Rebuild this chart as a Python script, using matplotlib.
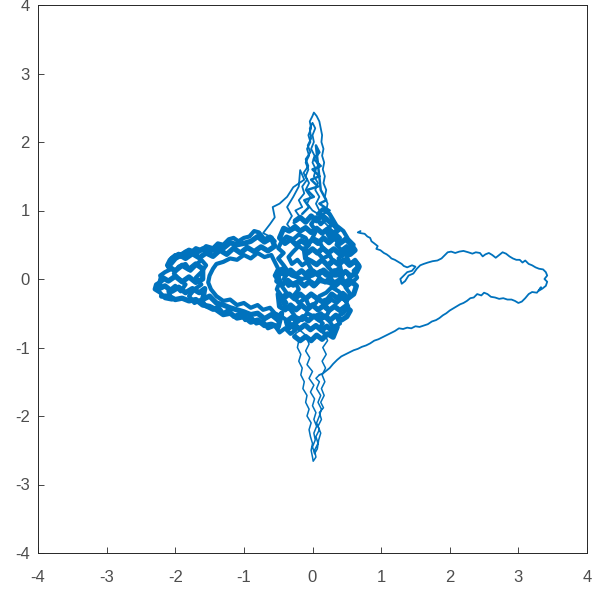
import numpy as np
import matplotlib
matplotlib.use("Agg")
import matplotlib.pyplot as plt

# Hand-read trajectory pieces (data units)
right_lobe = [(0.70,0.70),(0.66,0.68),(0.70,0.67),(0.76,0.66),(0.80,0.62),(0.84,0.60),(0.86,0.55),(0.90,0.52),(0.95,0.48),(0.93,0.44),
 (0.99,0.42),(1.04,0.38),(1.08,0.36),(1.12,0.33),(1.15,0.30),(1.20,0.28),(1.25,0.25),(1.30,0.22),(1.33,0.19),(1.38,0.17),
 (1.45,0.20),(1.50,0.18),(1.45,0.12),(1.38,0.10),(1.33,0.05),(1.28,0.00),(1.30,-0.07),(1.35,-0.03),(1.40,0.05),(1.47,0.08),
 (1.52,0.15),(1.57,0.20),(1.62,0.22),(1.68,0.24),(1.75,0.26),(1.82,0.27),(1.88,0.30),(1.93,0.35),(1.97,0.39),(2.02,0.40),
 (2.08,0.38),(2.14,0.40),(2.20,0.41),(2.27,0.39),(2.33,0.37),(2.38,0.39),(2.44,0.38),(2.48,0.33),(2.52,0.36),(2.57,0.38),
 (2.62,0.35),(2.67,0.31),(2.72,0.35),(2.77,0.39),(2.82,0.37),(2.87,0.33),(2.92,0.30),(2.97,0.28),(3.02,0.28),(3.06,0.24),
 (3.10,0.27),(3.15,0.22),(3.20,0.20),(3.25,0.17),(3.30,0.15),(3.36,0.14),(3.40,0.10),(3.42,0.05),(3.38,0.00),(3.42,-0.04),
 (3.40,-0.10),(3.35,-0.14),(3.30,-0.17),(3.33,-0.12),(3.27,-0.20),(3.20,-0.19),(3.15,-0.22),(3.10,-0.28),(3.05,-0.33),(3.00,-0.35),
 (2.95,-0.32),(2.90,-0.30),(2.84,-0.30),(2.78,-0.28),(2.72,-0.29),(2.66,-0.27),(2.60,-0.26),(2.55,-0.22),(2.50,-0.20),(2.46,-0.24),
 (2.40,-0.22),(2.35,-0.27),(2.30,-0.28),(2.25,-0.32),(2.20,-0.35),(2.15,-0.37),(2.10,-0.40),(2.05,-0.43),(2.00,-0.46),(1.95,-0.50),
 (1.90,-0.53),(1.85,-0.57),(1.80,-0.60),(1.74,-0.62),(1.68,-0.66),(1.62,-0.68),(1.56,-0.70),(1.50,-0.69),(1.44,-0.72),(1.38,-0.71),
 (1.32,-0.73),(1.26,-0.72),(1.20,-0.76),(1.14,-0.79),(1.08,-0.82),(1.02,-0.85),(0.96,-0.88),(0.90,-0.90),(0.84,-0.94),(0.78,-0.97),
 (0.72,-0.99),(0.66,-1.02),(0.60,-1.04),(0.54,-1.07),(0.48,-1.10),(0.42,-1.13),(0.36,-1.18),(0.30,-1.24),(0.25,-1.30),(0.20,-1.34),
 (0.15,-1.38),(0.10,-1.40)]

bottom_spike = [(0.10,-1.40),(0.05,-1.45),(0.10,-1.50),(0.06,-1.60),(0.12,-1.70),(0.08,-1.80),(0.13,-1.90),(0.10,-2.00),(0.06,-2.10),(0.10,-2.20),
 (0.05,-2.30),(0.08,-2.40),(0.03,-2.50),(0.05,-2.60),(0.01,-2.66),(0.00,-2.60),(-0.02,-2.50),(0.00,-2.40),(-0.03,-2.30),(-0.05,-2.20),
 (-0.02,-2.10),(-0.08,-2.00),(-0.05,-1.90),(-0.10,-1.80),(-0.08,-1.70),(-0.14,-1.60),(-0.12,-1.50),(-0.17,-1.40),(-0.15,-1.30),(-0.20,-1.20),
 (-0.17,-1.10),(-0.22,-1.00),(-0.20,-0.90),(-0.25,-0.80),(-0.18,-0.75),(-0.10,-0.82),(-0.05,-0.95),(-0.10,-1.05),(-0.04,-1.15),(-0.08,-1.25),
 (0.00,-1.35),(-0.05,-1.45),(0.02,-1.55),(-0.03,-1.65),(0.03,-1.75),(0.00,-1.85),(0.05,-1.95),(0.02,-2.05),(0.06,-2.15),(0.02,-2.25),
 (0.04,-2.35),(0.00,-2.45),(0.03,-2.55),(0.07,-2.48),(0.09,-2.35),(0.12,-2.25),(0.08,-2.15),(0.13,-2.05),(0.10,-1.95),(0.16,-1.88),
 (0.12,-1.80),(0.17,-1.70),(0.13,-1.60),(0.18,-1.50),(0.14,-1.40),(0.19,-1.30),(0.14,-1.20),(0.20,-1.10),(0.15,-1.00),(0.22,-0.90),
 (0.18,-0.80)]

center_blob = [(0.18,-0.80),(0.10,-0.72),(0.15,-0.65),(0.08,-0.58),(0.20,-0.55),(0.25,-0.45),(0.18,-0.38),(0.28,-0.30),(0.35,-0.35),(0.42,-0.28),
 (0.50,-0.32),(0.55,-0.22),(0.48,-0.12),(0.58,-0.05),(0.65,0.02),(0.60,0.12),(0.68,0.20),(0.62,0.28),(0.55,0.22),(0.50,0.32),
 (0.58,0.40),(0.50,0.48),(0.42,0.42),(0.35,0.50),(0.40,0.60),(0.32,0.68),(0.25,0.60),(0.20,0.70),(0.28,0.80),(0.20,0.88),
 (0.12,0.80),(0.05,0.90),(-0.02,0.80),(0.05,0.70),(0.00,0.60),(0.10,0.55),(0.15,0.45),(0.08,0.38),(0.15,0.30),(0.25,0.35),
 (0.30,0.25),(0.22,0.18),(0.30,0.10),(0.38,0.15),(0.45,0.08),(0.40,0.00),(0.32,-0.05),(0.25,0.02),(0.18,-0.05),(0.10,0.02),
 (0.05,-0.08),(-0.05,-0.02),(-0.10,0.08),(-0.02,0.15),(-0.08,0.25),(-0.15,0.20),(-0.22,0.28),(-0.30,0.22),(-0.35,0.32),(-0.28,0.40),
 (-0.20,0.48),(-0.12,0.42),(-0.05,0.50),(-0.10,0.60),(-0.20,0.65),(-0.28,0.58),(-0.38,0.62),(-0.45,0.55),(-0.50,0.45),(-0.42,0.38),
 (-0.50,0.30),(-0.42,0.20),(-0.35,0.10),(-0.42,0.00),(-0.35,-0.10),(-0.25,-0.05),(-0.20,-0.15),(-0.28,-0.25),(-0.20,-0.35),(-0.10,-0.28),
 (-0.05,-0.40),(0.05,-0.35),(0.10,-0.25),(0.20,-0.20),(0.28,-0.12),(0.38,-0.18),(0.45,-0.25),(0.52,-0.40),(0.45,-0.50),(0.35,-0.55),
 (0.40,-0.65),(0.30,-0.70),(0.25,-0.62),(0.12,-0.50),(0.02,-0.55),(-0.08,-0.50),(-0.15,-0.60),(-0.25,-0.55),(-0.32,-0.45),(-0.40,-0.40),
 (-0.45,-0.30),(-0.38,-0.20),(-0.45,-0.10),(-0.50,0.05),(-0.45,0.15),(-0.30,0.05),(-0.15,0.00),(0.00,0.05),(0.12,0.12),(0.20,0.05),
 (0.35,0.05),(0.50,0.10),(0.55,0.00),(0.45,-0.05),(0.38,0.30),(0.45,0.35),(0.60,0.50),(0.52,0.58),(0.45,0.70),(0.35,0.78),
 (0.25,0.95),(0.15,1.02),(0.08,0.95)]

center_fill = [(-0.25,0.85),(-0.18,0.90),(-0.10,0.83),(-0.02,0.92),(0.06,0.85),(0.14,0.93),(0.22,0.86),(0.30,0.80),
 (0.38,0.72),(0.30,0.66),(0.22,0.73),(0.14,0.67),(0.06,0.74),(-0.02,0.68),(-0.10,0.75),(-0.18,0.70),(-0.26,0.76),(-0.34,0.70),(-0.42,0.74),
 (-0.48,0.60),(-0.40,0.52),(-0.32,0.58),(-0.24,0.50),(-0.16,0.56),(-0.08,0.50),(0.00,0.58),(0.08,0.52),(0.16,0.60),(0.24,0.53),
 (0.32,0.60),(0.40,0.52),(0.48,0.58),(0.55,0.52),
 (0.62,0.42),(0.55,0.36),(0.47,0.43),(0.39,0.37),(0.31,0.44),(0.23,0.38),(0.15,0.45),(0.07,0.38),(0.00,0.44),(-0.07,0.38),(-0.12,0.44),
 (-0.10,0.30),(-0.02,0.26),(0.06,0.21),(0.14,0.28),(0.22,0.20),(0.30,0.27),(0.38,0.21),(0.46,0.28),(0.54,0.20),(0.62,0.26),(0.68,0.18),
 (0.64,0.10),(0.56,0.04),(0.48,0.11),(0.40,0.05),(0.32,0.12),(0.24,0.06),(0.16,0.13),(0.08,0.06),(0.00,0.12),(-0.08,0.05),
 (-0.16,0.12),(-0.24,0.06),(-0.32,0.13),(-0.40,0.06),(-0.48,0.10),
 (-0.52,-0.03),(-0.44,-0.08),(-0.36,-0.02),(-0.28,-0.09),(-0.20,-0.03),(-0.12,-0.10),(-0.05,-0.04),(0.02,-0.10),
 (0.10,-0.02),(0.25,-0.05),(0.33,-0.10),(0.41,-0.03),(0.49,-0.10),(0.57,-0.04),(0.64,-0.10),
 (0.60,-0.22),(0.52,-0.28),(0.44,-0.21),(0.36,-0.28),(0.28,-0.22),(0.22,-0.30),(0.14,-0.33),(0.06,-0.28),(-0.02,-0.22),(-0.10,-0.29),
 (-0.18,-0.22),(-0.26,-0.29),(-0.34,-0.22),(-0.42,-0.28),(-0.50,-0.22),
 (-0.48,-0.40),(-0.40,-0.45),(-0.32,-0.38),(-0.24,-0.45),(-0.16,-0.38),(-0.08,-0.45),(0.00,-0.38),(0.08,-0.45),(0.16,-0.39),(0.24,-0.46),
 (0.32,-0.40),(0.40,-0.46),(0.48,-0.40),(0.55,-0.46),
 (0.50,-0.55),(0.42,-0.60),(0.34,-0.53),(0.26,-0.60),(0.18,-0.54),(0.10,-0.60),(0.02,-0.54),(-0.06,-0.61),(-0.14,-0.55),(-0.22,-0.62),
 (-0.30,-0.56),(-0.38,-0.62),
 (-0.35,-0.72),(-0.27,-0.66),(-0.19,-0.73),(-0.11,-0.67),(-0.03,-0.74),(0.05,-0.68),(0.13,-0.75),(0.21,-0.69),(0.29,-0.76),(0.36,-0.70),
 (0.30,-0.85),(0.22,-0.80),(0.14,-0.88),(0.06,-0.82),(-0.02,-0.90),(-0.10,-0.84),(-0.18,-0.90),(-0.26,-0.84)]

spike_base = [(-0.15,0.95),(-0.05,1.05),(-0.12,1.15),(0.02,1.20),(-0.08,1.30),(0.08,1.35),(-0.02,1.45),(0.10,1.50),(0.00,1.60),
 (0.12,1.65),(0.02,1.75),(0.10,1.85),(0.05,1.95),(0.12,1.30),(0.20,1.15),(0.10,1.10),(0.25,1.00),(0.15,0.95)]

top_spike = [(0.08,0.95),(0.00,1.00),(-0.08,1.10),(-0.03,1.20),(-0.10,1.30),(-0.05,1.40),(-0.10,1.50),(-0.06,1.60),(-0.10,1.70),(-0.05,1.80),
 (-0.08,1.90),(-0.03,2.00),(-0.06,2.10),(-0.02,2.20),(-0.04,2.30),(0.00,2.38),(0.02,2.43),(0.06,2.38),(0.10,2.30),(0.12,2.20),
 (0.14,2.10),(0.13,2.00),(0.16,1.90),(0.14,1.80),(0.17,1.70),(0.15,1.60),(0.18,1.50),(0.16,1.40),(0.20,1.30),(0.18,1.20),
 (0.22,1.10),(0.20,1.00),(0.26,0.90),(0.36,0.67),(0.28,0.72),(0.15,0.85),(0.10,1.00),(0.05,1.10),(0.10,1.20),(0.04,1.30),
 (0.08,1.40),(0.02,1.50),(0.05,1.60),(0.00,1.70),(0.03,1.80),(-0.02,1.90),(0.02,2.00),(0.00,2.10),(0.04,2.20),(0.00,2.28),
 (-0.04,2.20),(-0.02,2.05),(-0.07,1.95),(-0.03,1.85),(-0.10,1.75),(-0.06,1.65),(-0.13,1.55),(-0.08,1.45),(-0.15,1.35),(-0.12,1.25),
 (-0.20,1.15),(-0.15,1.05),(-0.25,1.00),(-0.18,0.90),(-0.28,0.82),(-0.20,0.75),(-0.30,0.70),(-0.37,0.80),(-0.30,0.92),(-0.37,1.05),
 (-0.28,1.20),(-0.20,1.35),(-0.18,1.59),(-0.12,1.45),(-0.28,1.34),(-0.37,1.20),(-0.48,1.10),(-0.58,1.05),(-0.55,0.90),(-0.62,0.80),
 (-0.72,0.67),(-0.62,0.62),(-0.55,0.55)]

left_lobe = [(-0.55,0.55),(-0.62,0.62),(-0.70,0.58),(-0.78,0.68),(-0.85,0.70),(-0.92,0.62),(-1.00,0.60),(-1.08,0.55),(-1.15,0.60),(-1.22,0.58),
 (-1.30,0.50),(-1.38,0.52),(-1.45,0.45),(-1.55,0.48),(-1.62,0.42),(-1.70,0.45),(-1.78,0.38),(-1.85,0.40),(-1.92,0.33),(-2.00,0.35),
 (-2.08,0.28),(-2.12,0.20),(-2.05,0.15),(-2.15,0.10),(-2.22,0.05),(-2.18,-0.02),(-2.28,-0.08),(-2.30,-0.15),(-2.22,-0.20),(-2.15,-0.28),
 (-2.05,-0.30),(-2.10,-0.18),(-2.00,-0.10),(-1.92,-0.18),(-1.85,-0.08),(-1.95,0.00),(-2.02,0.08),(-1.95,0.18),(-1.85,0.22),(-1.78,0.12),
 (-1.70,0.20),(-1.62,0.28),(-1.55,0.20),(-1.62,0.10),(-1.70,0.02),(-1.62,-0.08),(-1.72,-0.15),(-1.80,-0.25),(-1.72,-0.35),(-1.62,-0.30),
 (-1.55,-0.40),(-1.45,-0.45),(-1.38,-0.40),(-1.30,-0.50),(-1.22,-0.45),(-1.15,-0.55),(-1.05,-0.50),(-0.98,-0.60),(-0.90,-0.55),(-0.82,-0.65),
 (-0.72,-0.62),(-0.65,-0.72),(-0.55,-0.68),(-0.48,-0.78),(-0.40,-0.72),(-0.32,-0.80),(-0.25,-0.75),(-0.35,-0.62),(-0.45,-0.55),(-0.55,-0.50),
 (-0.62,-0.42),(-0.72,-0.45),(-0.80,-0.38),(-0.90,-0.42),(-1.00,-0.35),(-1.10,-0.38),(-1.20,-0.30),(-1.30,-0.32),(-1.40,-0.25),(-1.48,-0.15),
 (-1.52,-0.05),(-1.50,0.05),(-1.45,0.15),(-1.40,0.22),(-1.30,0.25),(-1.20,0.30),(-1.10,0.28),(-1.00,0.35),(-0.90,0.30),(-0.80,0.38),
 (-0.70,0.32),(-0.60,0.35),(-0.55,0.25),(-0.50,0.15),(-0.55,0.05),(-0.48,-0.05),(-0.52,-0.15),(-0.45,-0.25),(-0.38,-0.35)]

left_fill = [(-2.05,0.30),(-1.95,0.36),(-1.85,0.30),(-1.75,0.37),(-1.65,0.31),(-1.55,0.38),(-1.45,0.33),(-1.35,0.42),(-1.25,0.36),(-1.15,0.45),
 (-1.05,0.38),(-0.95,0.46),(-0.85,0.40),(-0.75,0.47),(-0.65,0.41),(-0.55,0.48),
 (-0.60,0.60),(-0.70,0.54),(-0.80,0.62),(-0.90,0.55),(-1.00,0.52),(-1.10,0.50),(-1.20,0.53),(-1.30,0.45),(-1.40,0.46),(-1.50,0.40),
 (-1.60,0.44),(-1.70,0.38),(-1.80,0.42),(-1.90,0.36),(-2.00,0.30),
 (-2.10,0.18),(-2.00,0.12),(-1.90,0.20),(-1.80,0.14),(-1.70,0.22),(-1.60,0.15),
 (-1.60,0.00),(-1.70,-0.05),(-1.80,0.03),(-1.90,-0.04),(-2.00,0.04),(-2.10,-0.03),(-2.20,0.03),
 (-2.25,-0.15),(-2.15,-0.10),(-2.05,-0.18),(-1.95,-0.12),(-1.85,-0.20),(-1.75,-0.14),(-1.65,-0.20),(-1.57,-0.14),
 (-1.60,-0.30),(-1.50,-0.25),(-1.40,-0.35),(-1.30,-0.38),(-1.20,-0.42),(-1.10,-0.45),(-1.00,-0.48),(-0.90,-0.52),(-0.80,-0.50),(-0.70,-0.58),
 (-0.60,-0.52),(-0.50,-0.60),(-0.45,-0.50),
 (-0.50,-0.70),(-0.60,-0.66),(-0.70,-0.68),(-0.80,-0.60),(-0.90,-0.63),(-1.00,-0.55),(-1.10,-0.57),(-1.20,-0.50),(-1.30,-0.52),(-1.40,-0.45),
 (-1.50,-0.40),(-1.60,-0.38),(-1.70,-0.30),(-1.80,-0.32),(-1.90,-0.28),(-2.00,-0.30),(-2.10,-0.25),(-2.20,-0.25)]

x_ticks = [-4, -3, -2, -1, 0, 1, 2, 3, 4]
y_ticks = [-4, -3, -2, -1, 0, 1, 2, 3, 4]

plt.rcParams['font.family'] = ['Liberation Sans', 'DejaVu Sans']
fig = plt.figure(figsize=(5.92, 5.95), dpi=100)
ax = fig.add_axes([38/592, 42/595, 549/592, 548/595])
col = '#0072BD'
for seg, lw in [(right_lobe, 1.3), (bottom_spike, 1.1), (top_spike, 1.3), (spike_base, 1.8),
                (center_blob, 3.0), (left_lobe, 3.0), (center_fill, 3.8), (left_fill, 3.8)]:
    a = np.array(seg)
    ax.plot(a[:, 0], a[:, 1], color=col, lw=lw, solid_joinstyle='round', solid_capstyle='round')

ax.set_xlim(-4, 4)
ax.set_ylim(-4, 4)
ax.set_xticks(x_ticks)
ax.set_yticks(y_ticks)
ax.set_xticklabels([str(t) for t in x_ticks])
ax.set_yticklabels([str(t) for t in y_ticks])
ax.tick_params(direction='in', length=4, width=0.6, colors='#262626', labelsize=12,
               top=False, right=False, labelcolor='#4d4d4d')
ax.tick_params(axis='x', pad=12)
ax.tick_params(axis='y', pad=6)
for s in ax.spines.values():
    s.set_color('#262626')
    s.set_linewidth(0.7)
fig.savefig('out.png', dpi=100)
